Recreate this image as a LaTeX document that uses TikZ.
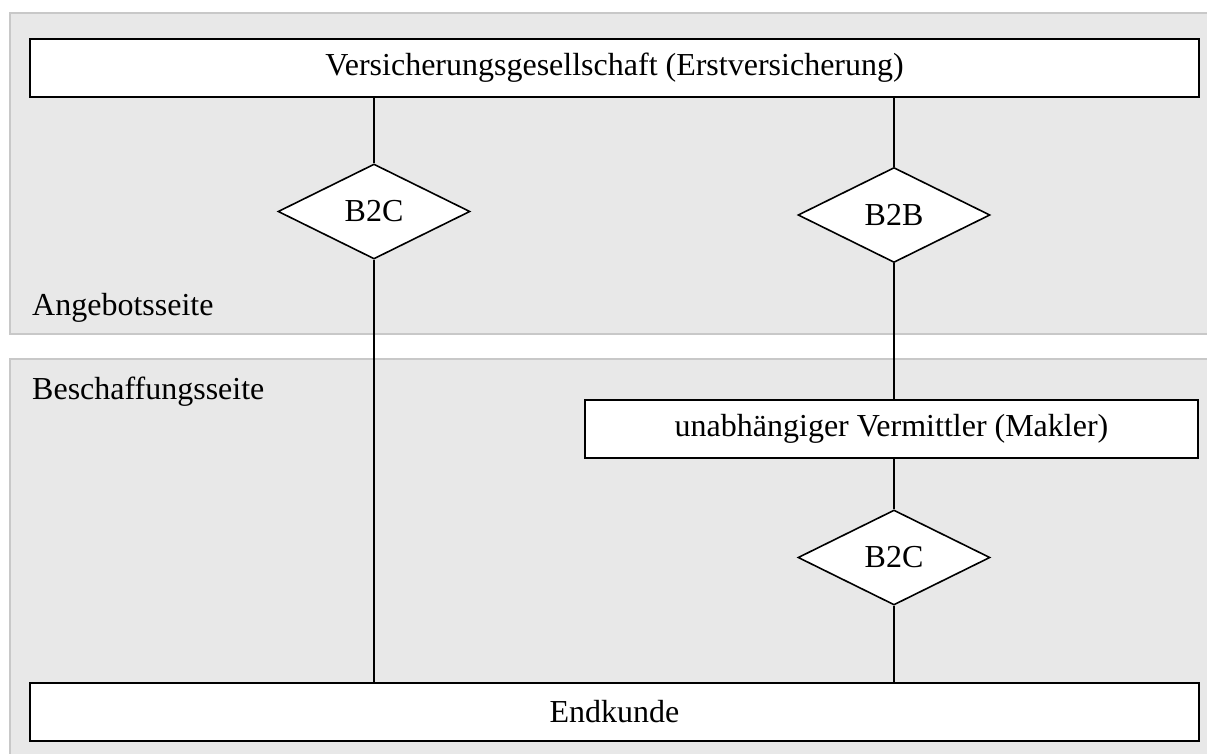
\documentclass[tikz,border=0pt]{standalone}
\usepackage{fontspec}
\setmainfont{Liberation Serif}
\usetikzlibrary{shapes.geometric}
\definecolor{panelfill}{HTML}{E8E8E8}
\definecolor{panelline}{HTML}{C8C8C8}
\tikzset{
  panel/.style={fill=panelfill, draw=panelline, line width=2pt},
  labelfont/.style={font=\fontsize{32}{38}\selectfont},
  party/.style={draw=black, fill=white, line width=2pt, rectangle, inner sep=0pt,
                minimum height=58pt, labelfont},
  channel/.style={draw=black, fill=white, line width=1.6pt, diamond, inner sep=0pt,
                  minimum width=192pt, minimum height=95pt, labelfont},
  side/.style={anchor=base west, inner sep=0pt, labelfont},
  link/.style={draw=black, line width=2pt}
}
\begin{document}
\begin{tikzpicture}[x=1pt, y=-1pt]
  \useasboundingbox (0,0) rectangle (1207,754);
  \clip (0,0) rectangle (1207,754);
  \fill[white] (0,0) rectangle (1207,754);

  % supply and procurement panels
  \draw[panel] (10,13) rectangle (1220,334);
  \draw[panel] (10,359) rectangle (1220,780);
  \node[side] (angebot) at (32,315) {Angebotsseite};
  \node[side] (beschaffung) at (32,399) {Beschaffungsseite};

  % parties
  \node[party, minimum width=1169pt] (vers) at (614.5,68) {\raisebox{-2pt}{Versicherungsgesellschaft (Erstversicherung)}};
  \node[party, minimum width=613pt] (makler) at (891.5,428.5) {\raisebox{-1pt}{unabhängiger Vermittler (Makler)}};
  \node[party, minimum width=1169pt] (kunde) at (614.5,712) {Endkunde};

  % sales channels
  \node[channel] (direkt) at (374,211.5) {B2C};
  \node[channel] (b2b) at (894,215) {B2B};
  \node[channel] (b2c) at (894,557.5) {B2C};

  % connectors
  \draw[link] (vers.south -| direkt.north) -- (direkt.north);
  \draw[link] (direkt.south) -- (kunde.north -| direkt.south);
  \draw[link] (vers.south -| b2b.north) -- (b2b.north);
  \draw[link] (b2b.south) -- (makler.north -| b2b.south);
  \draw[link] (makler.south -| b2c.north) -- (b2c.north);
  \draw[link] (b2c.south) -- (kunde.north -| b2c.south);
\end{tikzpicture}
\end{document}
